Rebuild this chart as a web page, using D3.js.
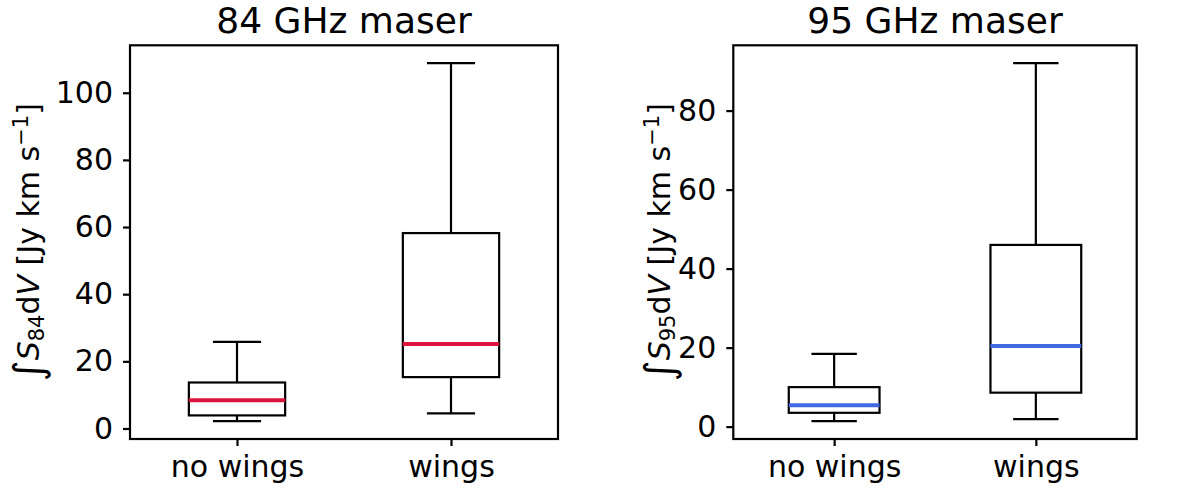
<!DOCTYPE html>
<html>
<head>
<meta charset="utf-8">
<script src="https://cdn.jsdelivr.net/npm/d3@7"></script>
<style>
  body { margin: 0; background: #fff; }
  svg { display: block; font-family: "DejaVu Sans", sans-serif; }
</style>
</head>
<body>
<svg id="chart" width="1200" height="489"></svg>
<script>
// categories on the x axis
const categories = ["no wings", "wings"];

// 84 GHz maser box stats
const whiskLow84 = [2.2, 4.5];
const q1_84 = [3.9, 15.3];
const median84 = [8.4, 25.2];
const q3_84 = [13.7, 58.2];
const whiskHigh84 = [25.8, 108.8];
const yTicks84 = [0, 20, 40, 60, 80, 100];

// 95 GHz maser box stats
const whiskLow95 = [1.4, 1.9];
const q1_95 = [3.5, 8.6];
const median95 = [5.4, 20.4];
const q3_95 = [10.0, 46.0];
const whiskHigh95 = [18.4, 92.0];
const yTicks95 = [0, 20, 40, 60, 80];

const svg = d3.select("#chart");

function drawPanel(opt) {
  const { left, right, top, bottom, title, freq, color, lo, q1, med, q3, hi, ticks, labelX } = opt;

  // matplotlib style 5% margins
  const dmin = d3.min(lo), dmax = d3.max(hi);
  const pad = (dmax - dmin) * 0.05;
  const y = d3.scaleLinear().domain([dmin - pad, dmax + pad]).range([bottom, top]);
  const x = d3.scaleLinear().domain([0.5, 2.5]).range([left, right]);
  const boxW = 0.45, capW = 0.225;
  const lw = 2.2;

  const g = svg.append("g");

  const rows = categories.map((c, i) => ({ c, pos: i + 1, lo: lo[i], q1: q1[i], med: med[i], q3: q3[i], hi: hi[i] }));

  const box = g.selectAll(".box").data(rows).join("g").attr("class", "box");
  // whiskers
  box.append("line")
    .attr("x1", d => x(d.pos)).attr("x2", d => x(d.pos))
    .attr("y1", d => y(d.q3)).attr("y2", d => y(d.hi))
    .attr("stroke", "#000").attr("stroke-width", lw);
  box.append("line")
    .attr("x1", d => x(d.pos)).attr("x2", d => x(d.pos))
    .attr("y1", d => y(d.q1)).attr("y2", d => y(d.lo))
    .attr("stroke", "#000").attr("stroke-width", lw);
  // caps
  box.append("line")
    .attr("x1", d => x(d.pos - capW / 2)).attr("x2", d => x(d.pos + capW / 2))
    .attr("y1", d => y(d.hi)).attr("y2", d => y(d.hi))
    .attr("stroke", "#000").attr("stroke-width", lw);
  box.append("line")
    .attr("x1", d => x(d.pos - capW / 2)).attr("x2", d => x(d.pos + capW / 2))
    .attr("y1", d => y(d.lo)).attr("y2", d => y(d.lo))
    .attr("stroke", "#000").attr("stroke-width", lw);
  // box
  box.append("rect")
    .attr("x", d => x(d.pos - boxW / 2))
    .attr("width", d => x(d.pos + boxW / 2) - x(d.pos - boxW / 2))
    .attr("y", d => y(d.q3))
    .attr("height", d => y(d.q1) - y(d.q3))
    .attr("fill", "none").attr("stroke", "#000").attr("stroke-width", lw);
  // median
  box.append("line")
    .attr("x1", d => x(d.pos - boxW / 2)).attr("x2", d => x(d.pos + boxW / 2))
    .attr("y1", d => y(d.med)).attr("y2", d => y(d.med))
    .attr("stroke", color).attr("stroke-width", 4);

  // frame
  g.append("rect")
    .attr("x", left).attr("y", top)
    .attr("width", right - left).attr("height", bottom - top)
    .attr("fill", "none").attr("stroke", "#000").attr("stroke-width", lw);

  // axes
  const yAxis = g.append("g")
    .attr("transform", `translate(${left},0)`)
    .call(d3.axisLeft(y).tickValues(ticks).tickFormat(d3.format("d")).tickSize(7).tickPadding(10));
  const xAxis = g.append("g")
    .attr("transform", `translate(0,${bottom})`)
    .call(d3.axisBottom(x).tickValues([1, 2]).tickFormat((d, i) => categories[i]).tickSize(7).tickPadding(10));
  [yAxis, xAxis].forEach(a => {
    a.select(".domain").remove();
    a.selectAll(".tick line").attr("stroke", "#000").attr("stroke-width", lw);
    a.selectAll("text").attr("fill", "#000").style("font-size", "30px").style("font-family", "DejaVu Sans");
  });

  // title
  g.append("text")
    .attr("x", (left + right) / 2).attr("y", 33)
    .attr("text-anchor", "middle")
    .style("font-size", "36px")
    .text(title);

  // y label
  const lab = g.append("text")
    .attr("transform", `translate(${labelX},${(top + bottom) / 2}) rotate(-90)`)
    .attr("text-anchor", "middle")
    .style("font-size", "30px");
  lab.append("tspan").style("font-size", "40px").attr("dy", 3).text("∫");
  lab.append("tspan").attr("dy", -3).style("font-style", "italic").text("S");
  lab.append("tspan").style("font-size", "21px").attr("dy", 5).text(freq);
  lab.append("tspan").attr("dy", -5).text("d");
  lab.append("tspan").style("font-style", "italic").text("V");
  lab.append("tspan").text(" [Jy km s");
  lab.append("tspan").style("font-size", "21px").attr("dy", -11).text("−1");
  lab.append("tspan").attr("dy", 11).text("]");
}

drawPanel({
  left: 130, right: 558, top: 45.3, bottom: 439,
  title: "84 GHz maser", freq: "84", color: "#dc143c",
  lo: whiskLow84, q1: q1_84, med: median84, q3: q3_84, hi: whiskHigh84,
  ticks: yTicks84, labelX: 39
});

drawPanel({
  left: 733.3, right: 1136.7, top: 45.3, bottom: 439,
  title: "95 GHz maser", freq: "95", color: "#4169e1",
  lo: whiskLow95, q1: q1_95, med: median95, q3: q3_95, hi: whiskHigh95,
  ticks: yTicks95, labelX: 670
});
</script>
</body>
</html>
